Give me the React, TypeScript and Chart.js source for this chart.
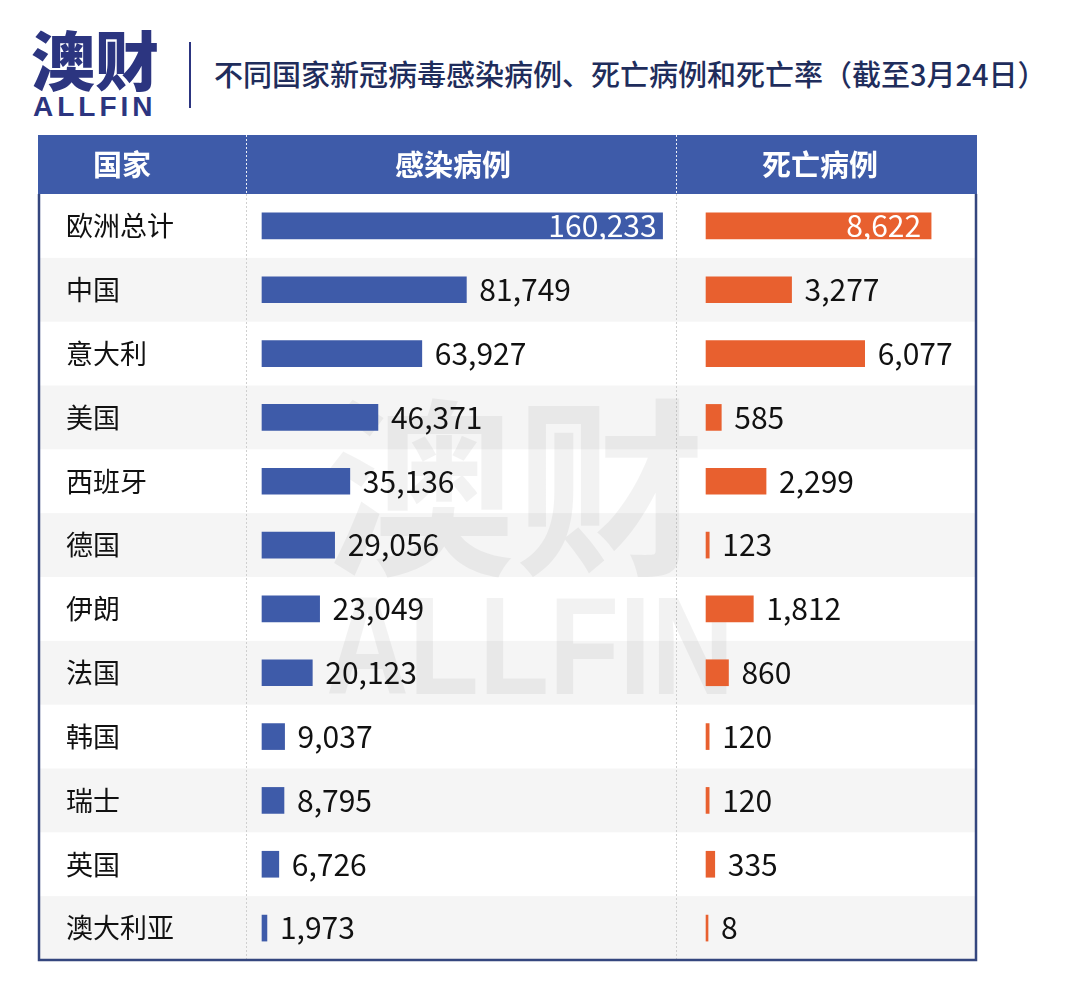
import React, { useEffect, useRef } from 'react';
import { Chart, registerables } from 'chart.js';

Chart.register(...registerables);

// ---------- data ----------
const countries = ['欧洲总计', '中国', '意大利', '美国', '西班牙', '德国', '伊朗', '法国', '韩国', '瑞士', '英国', '澳大利亚'];
const cases = [160233, 81749, 63927, 46371, 35136, 29056, 23049, 20123, 9037, 8795, 6726, 1973];
const deaths = [8622, 3277, 6077, 585, 2299, 123, 1812, 860, 120, 120, 335, 8];
const columnHeaders = ['国家', '感染病例', '死亡病例'];
const titleText = '不同国家新冠病毒感染病例、死亡病例和死亡率（截至3月24日）';
const logoText = '澳财';
const logoSub = 'ALLFIN';
const casesAxisRange = [-6400, 165600];
const deathsAxisRange = [-1150, 10380];

// ---------- styles ----------
const BLUE = '#3e5ba9';
const ORANGE = '#e8602f';
const NAVY = '#2c3580';
const BORDER = '#34467e';
const STRIPE = '#f5f5f5';
const FONT = "'Noto Sans CJK SC', 'Noto Sans', sans-serif";
const TABLE = { left: 38, right: 977, top: 135, headerBottom: 194, bottom: 960 };

const tablePlugin = {
  id: 'tableChrome',
  beforeDraw(chart: any) {
    const { ctx } = chart;
    const y = chart.scales.y;
    const n = countries.length;
    const rowH = (y.bottom - y.top) / n;
    ctx.save();
    ctx.fillStyle = STRIPE;
    for (let i = 0; i < n; i++) {
      if (i % 2 === 1) {
        const c = y.getPixelForValue(i);
        ctx.fillRect(TABLE.left, c - rowH / 2, TABLE.right - TABLE.left, rowH);
      }
    }
    ctx.fillStyle = BLUE;
    ctx.fillRect(TABLE.left, TABLE.top, TABLE.right - TABLE.left, TABLE.headerBottom - TABLE.top);
    const seps = [chart.scales.x.left, chart.scales.x2.left];
    ctx.lineWidth = 1;
    ctx.setLineDash([2, 2]);
    for (const sx of seps) {
      const px = Math.round(sx) + 0.5;
      ctx.strokeStyle = 'rgba(255,255,255,0.9)';
      ctx.beginPath();
      ctx.moveTo(px, TABLE.top);
      ctx.lineTo(px, TABLE.headerBottom);
      ctx.stroke();
      ctx.strokeStyle = '#cfcfcf';
      ctx.beginPath();
      ctx.moveTo(px, TABLE.headerBottom);
      ctx.lineTo(px, TABLE.bottom);
      ctx.stroke();
    }
    ctx.setLineDash([]);
    ctx.fillStyle = '#ffffff';
    ctx.font = `bold 29px ${FONT}`;
    ctx.textAlign = 'center';
    ctx.textBaseline = 'middle';
    const hy = (TABLE.top + TABLE.headerBottom) / 2;
    const centers = [122, 453, 820];
    columnHeaders.forEach((h, i) => ctx.fillText(h, centers[i], hy));
    ctx.restore();
  },
  beforeDatasetsDraw(chart: any) {
    const { ctx } = chart;
    ctx.save();
    ctx.fillStyle = 'rgba(0,0,0,0.05)';
    ctx.textAlign = 'center';
    ctx.textBaseline = 'middle';
    ctx.font = `bold 190px ${FONT}`;
    ctx.fillText(logoText, 515, 488);
    ctx.translate(530, 655);
    ctx.scale(0.82, 1);
    ctx.font = `bold 140px 'Liberation Sans', sans-serif`;
    ctx.fillText(logoSub, 0, 0);
    ctx.restore();
  },
  afterDatasetsDraw(chart: any) {
    const { ctx } = chart;
    ctx.save();
    ctx.font = `30px ${FONT}`;
    ctx.textBaseline = 'middle';
    chart.data.datasets.forEach((ds: any, di: number) => {
      const meta = chart.getDatasetMeta(di);
      meta.data.forEach((el: any, i: number) => {
        const txt = Number(ds.data[i]).toLocaleString('en-US');
        if (i === 0) {
          ctx.fillStyle = '#ffffff';
          ctx.textAlign = 'right';
          ctx.fillText(txt, el.x - (di === 0 ? 6 : 10), el.y);
        } else {
          ctx.fillStyle = '#111111';
          ctx.textAlign = 'left';
          ctx.fillText(txt, el.x + 13, el.y);
        }
      });
    });
    ctx.restore();
  },
  afterDraw(chart: any) {
    const { ctx } = chart;
    ctx.save();
    ctx.strokeStyle = BORDER;
    ctx.lineWidth = 2.5;
    ctx.beginPath();
    ctx.moveTo(TABLE.left + 1, TABLE.headerBottom);
    ctx.lineTo(TABLE.left + 1, TABLE.bottom);
    ctx.lineTo(TABLE.right - 1, TABLE.bottom);
    ctx.lineTo(TABLE.right - 1, TABLE.headerBottom);
    ctx.stroke();
    ctx.restore();
  },
};

export default function App() {
  const canvasRef = useRef<HTMLCanvasElement>(null);

  useEffect(() => {
    if (!canvasRef.current) return;
    const chart = new Chart(canvasRef.current, {
      type: 'bar',
      data: {
        labels: countries,
        datasets: [
          {
            label: columnHeaders[1],
            data: cases,
            xAxisID: 'x',
            backgroundColor: BLUE,
            barThickness: 26,
            grouped: false,
            minBarLength: 2,
          } as any,
          {
            label: columnHeaders[2],
            data: deaths,
            xAxisID: 'x2',
            backgroundColor: ORANGE,
            barThickness: 26,
            grouped: false,
            minBarLength: 2,
          } as any,
        ],
      },
      options: {
        indexAxis: 'y',
        animation: false,
        responsive: true,
        maintainAspectRatio: false,
        layout: { padding: { top: 194, bottom: 24, left: 66, right: 90 } },
        plugins: { legend: { display: false }, tooltip: { enabled: false }, title: { display: false } },
        scales: {
          y: {
            type: 'category',
            position: 'left',
            grid: { display: false },
            border: { display: false },
            ticks: {
              autoSkip: false,
              crossAlign: 'far',
              padding: 0,
              color: '#111111',
              font: { family: FONT, size: 27 },
            },
            afterFit: (scale: any) => {
              scale.width = 180;
            },
          },
          x: {
            type: 'linear',
            position: 'bottom',
            stack: 'cols',
            stackWeight: 430,
            min: casesAxisRange[0],
            max: casesAxisRange[1],
            display: false,
          },
          x2: {
            type: 'linear',
            position: 'bottom',
            stack: 'cols',
            stackWeight: 301,
            min: deathsAxisRange[0],
            max: deathsAxisRange[1],
            display: false,
          },
        },
      } as any,
      plugins: [tablePlugin],
    });
    return () => chart.destroy();
  }, []);

  return (
    <div style={{ position: 'absolute', left: 0, top: 0, width: 1067, height: 984, background: '#ffffff' }}>
      <div style={{ position: 'absolute', left: 31, top: 25, fontFamily: FONT, fontWeight: 900, fontSize: 64, lineHeight: 1, color: NAVY, whiteSpace: 'nowrap' }}>
        {logoText}
      </div>
      <div style={{ position: 'absolute', left: 33, top: 93, fontFamily: "'Liberation Sans', Arial, sans-serif", fontWeight: 700, fontSize: 28, lineHeight: 1, letterSpacing: 4, color: NAVY, whiteSpace: 'nowrap' }}>
        {logoSub}
      </div>
      <div style={{ position: 'absolute', left: 189, top: 42, width: 2, height: 66, background: NAVY }} />
      <div style={{ position: 'absolute', left: 214, top: 59, fontFamily: FONT, fontWeight: 500, fontSize: 29, lineHeight: 1, color: '#1f2d5c', whiteSpace: 'nowrap' }}>
        {titleText}
      </div>
      <div style={{ position: 'absolute', left: 0, top: 0, width: 1067, height: 984 }}>
        <canvas ref={canvasRef} />
      </div>
    </div>
  );
}
